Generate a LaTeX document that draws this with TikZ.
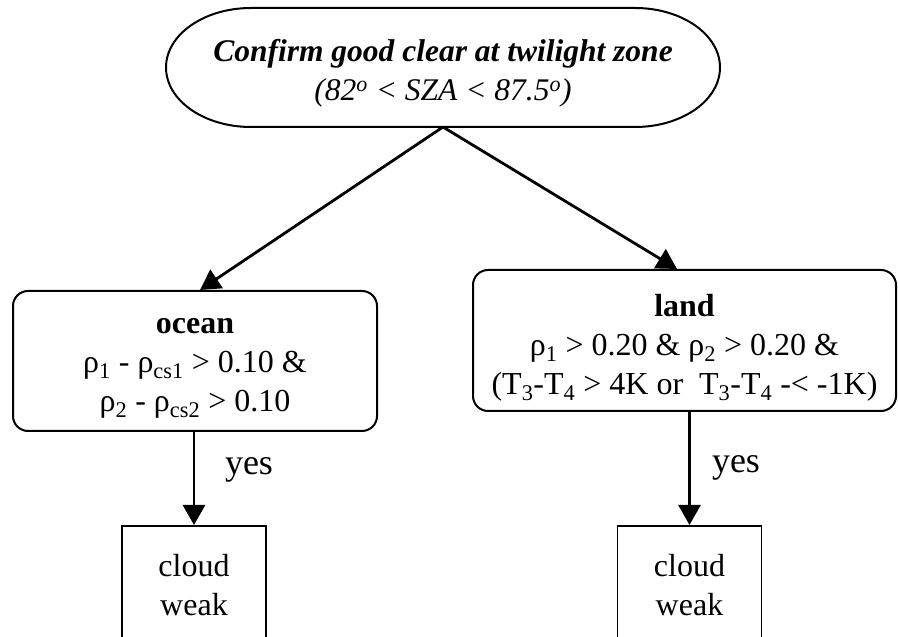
\documentclass[tikz,border=0pt]{standalone}
\usepackage{fontspec}
\setmainfont{Liberation Serif}
\usetikzlibrary{arrows.meta}
\begin{document}
\begin{tikzpicture}[x=1pt,y=1pt,
  every node/.style={font=\fontsize{32}{39}\selectfont, align=center, inner sep=0pt},
  condbox/.style={draw, line width=2pt, rounded corners=15pt},
  outbox/.style={draw, line width=1.6pt, minimum width=144pt, minimum height=160pt, anchor=north},
  arr/.style={line width=2.8pt, -{Triangle[length=20pt,width=22pt]}},
  lbl/.style={font=\fontsize{36}{40}\selectfont},
  titletext/.style={font=\fontsize{31.5}{39}\selectfont}]
\useasboundingbox (0,0) rectangle (898,637);

% start node: flat top and bottom, elliptical ends
\draw[line width=2pt] (251,629) -- (635,629)
  arc[start angle=90, end angle=-90, x radius=85, y radius=59.5]
  -- (251,510)
  arc[start angle=270, end angle=90, x radius=85, y radius=59.5] -- cycle;
\node[titletext] (top) at (443,564)
  {\textbf{\textit{Confirm good clear at twilight zone}}\\
   \textit{(82\textsuperscript{o} < SZA < 87.5\textsuperscript{o})}};
\coordinate (topbase) at (443,510);

% condition boxes, with their texts set a little below centre
\node[condbox, minimum width=364pt, minimum height=140pt] (ocean) at (195,276) {};
\node (oceantext) at (195,269)
  {\textbf{ocean}\\
   ρ\textsubscript{1} - ρ\textsubscript{cs1} > 0.10 \&\\
   ρ\textsubscript{2} - ρ\textsubscript{cs2} > 0.10};
\node[condbox, minimum width=423pt, minimum height=141pt] (land) at (684.5,296.5) {};
\node (landtext) at (684.5,289.5)
  {\textbf{land}\\
   ρ\textsubscript{1} > 0.20 \& ρ\textsubscript{2} > 0.20 \&\\
   (T\textsubscript{3}-T\textsubscript{4} > 4K or\ \ T\textsubscript{3}-T\textsubscript{4} -< -1K)};

% result boxes (run past the lower edge)
\node[outbox] (cw1) at (194,112) {};
\node (cw1t) at (194,52) {cloud\\weak};
\node[outbox] (cw2) at (689.5,112) {};
\node (cw2t) at (689.5,52) {cloud\\weak};

% connectors
\draw[arr] (topbase) -- (ocean.north -| 200,0);
\draw[arr] (topbase) -- (land.north -| 677,0);
\draw[arr] (cw1.north |- ocean.south) -- (cw1.north);
\draw[arr] (cw2.north |- land.south) -- (cw2.north);

\node[lbl] (yes1) at (249,167) {yes};
\node[lbl] (yes2) at (736,169) {yes};
\end{tikzpicture}
\end{document}
